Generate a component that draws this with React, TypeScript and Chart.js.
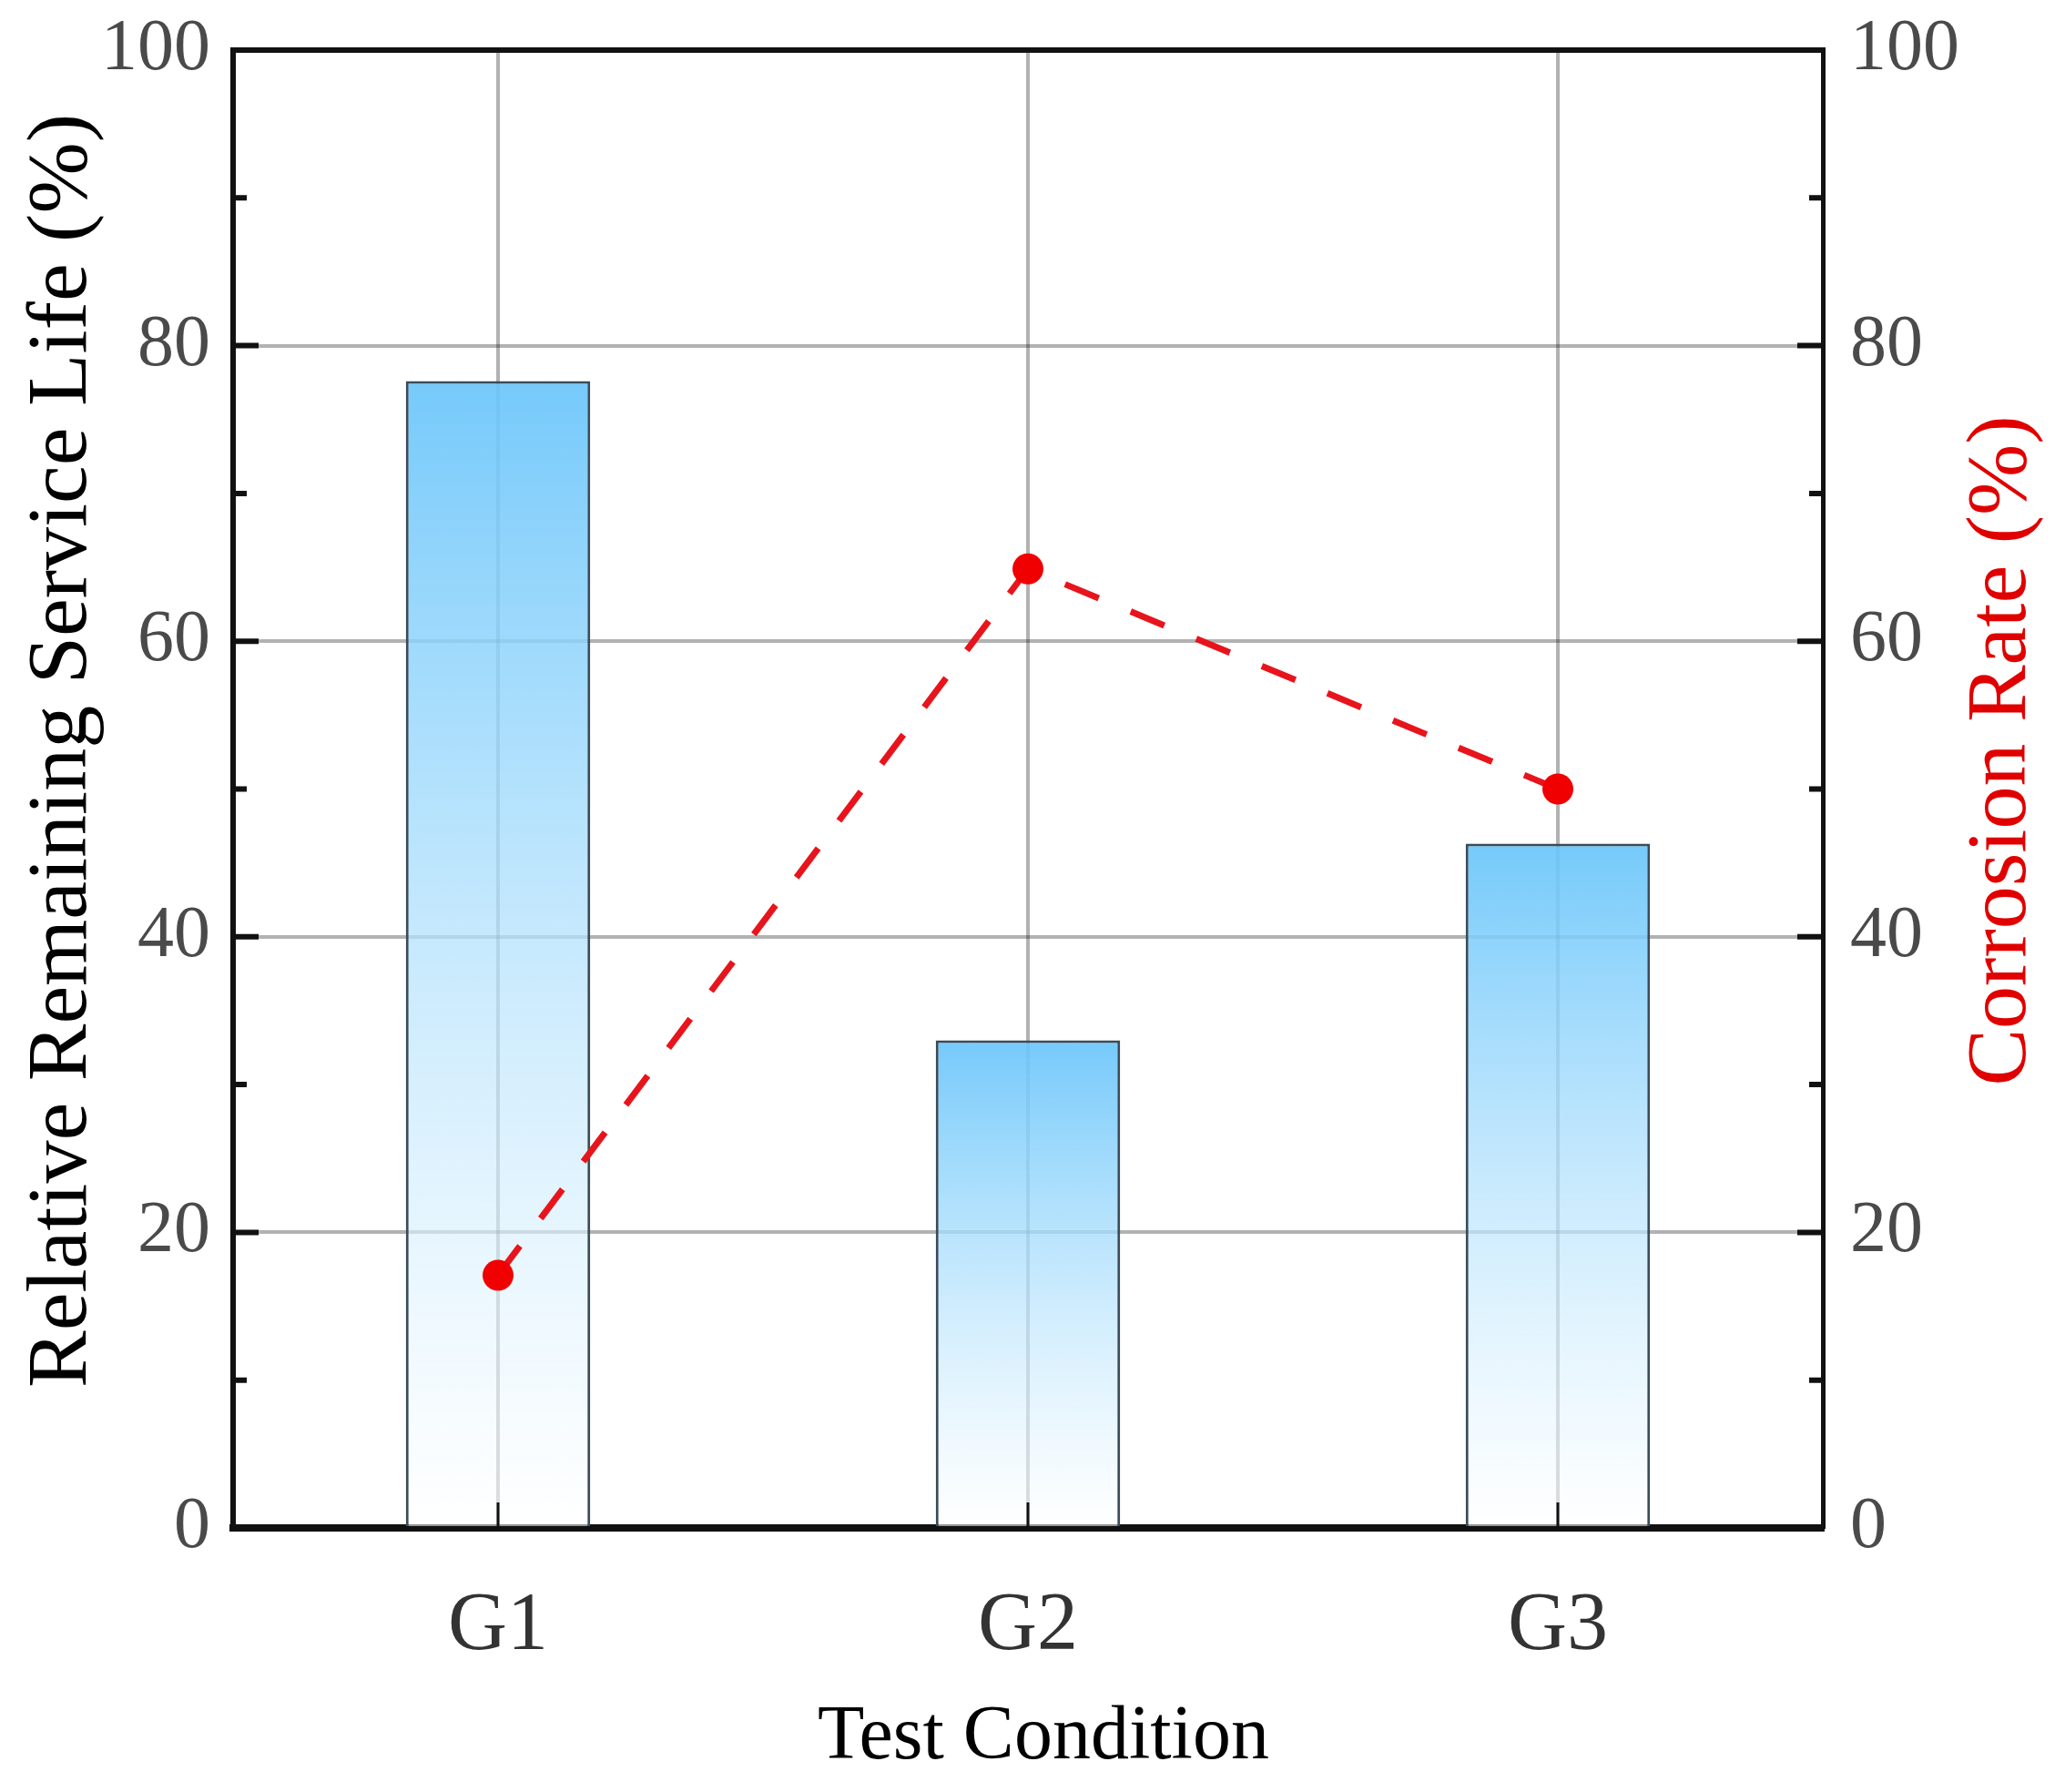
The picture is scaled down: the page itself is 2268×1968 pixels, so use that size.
import React, { useRef, useEffect } from 'react';
import { Chart, registerables } from 'chart.js';

Chart.register(...registerables);

// data
const conditions = ['G1', 'G2', 'G3'];
const serviceLife = [77.6, 33.0, 46.3];
const corrosionRate = [17.1, 64.9, 50.0];
const majorTicks = [0, 20, 40, 60, 80, 100];
const minorTicks = [10, 30, 50, 70, 90];

const SERIF = "'Liberation Serif', 'Times New Roman', serif";

// frame, inward tick marks and axis titles
const framePlugin = {
  id: 'frame',
  afterDraw(chart: any) {
    const { ctx, chartArea: a, scales } = chart;
    const y = scales.y;
    const x = scales.x;
    ctx.save();
    ctx.strokeStyle = '#111';

    // top line of the box
    ctx.lineWidth = 6;
    ctx.beginPath();
    ctx.moveTo(a.left - 3, a.top);
    ctx.lineTo(a.right + 3, a.top);
    ctx.stroke();

    // inward ticks on both y axes
    const drawTick = (v: number, len: number) => {
      const py = y.getPixelForValue(v);
      ctx.beginPath();
      ctx.moveTo(a.left, py);
      ctx.lineTo(a.left + len, py);
      ctx.moveTo(a.right, py);
      ctx.lineTo(a.right - len, py);
      ctx.stroke();
    };
    ctx.lineWidth = 6;
    majorTicks.forEach((v) => drawTick(v, 28));
    minorTicks.forEach((v) => drawTick(v, 15));

    // inward ticks on the x axis
    ctx.lineWidth = 3;
    conditions.forEach((_, i) => {
      const px = x.getPixelForTick(i);
      ctx.beginPath();
      ctx.moveTo(px, a.bottom);
      ctx.lineTo(px, a.bottom - 28);
      ctx.stroke();
    });

    // axis titles
    const midY = (a.top + a.bottom) / 2 - 42;
    ctx.font = `94px ${SERIF}`;
    ctx.textAlign = 'center';
    ctx.textBaseline = 'middle';

    ctx.fillStyle = '#000';
    ctx.save();
    ctx.translate(a.left - 187, midY);
    ctx.rotate(-Math.PI / 2);
    ctx.fillText('Relative Remaining Service Life (%)', 0, 0);
    ctx.restore();

    ctx.fillStyle = '#e00000';
    ctx.save();
    ctx.translate(a.right + 197, midY);
    ctx.rotate(-Math.PI / 2);
    ctx.fillText('Corrosion Rate (%)', 0, 0);
    ctx.restore();

    ctx.fillStyle = '#000';
    ctx.font = `84px ${SERIF}`;
    ctx.fillText('Test Condition', (a.left + a.right) / 2 + 17, a.bottom + 231);

    ctx.restore();
  },
};

const App: React.FC = () => {
  const canvasRef = useRef<HTMLCanvasElement>(null);

  useEffect(() => {
    if (!canvasRef.current) return;

    const barFill = (c: any) => {
      const chart = c.chart;
      if (!chart.chartArea || c.type !== 'data') return 'rgba(110,198,250,0.9)';
      const ys = chart.scales.y;
      const top = ys.getPixelForValue(c.raw as number);
      const bottom = ys.getPixelForValue(0);
      const g = chart.ctx.createLinearGradient(0, top, 0, bottom);
      g.addColorStop(0, 'rgba(106,197,250,0.92)');
      g.addColorStop(1, 'rgba(255,255,255,0.55)');
      return g;
    };

    const chart = new Chart(canvasRef.current, {
      type: 'bar',
      data: {
        labels: conditions,
        datasets: [
          {
            type: 'line',
            label: 'Corrosion Rate',
            data: corrosionRate,
            yAxisID: 'y1',
            borderColor: '#e8141c',
            borderWidth: 7,
            borderDash: [40, 38],
            pointRadius: 17,
            pointBackgroundColor: '#f00000',
            pointBorderWidth: 0,
            order: 1,
          },
          {
            type: 'bar',
            label: 'Relative Remaining Service Life',
            data: serviceLife,
            yAxisID: 'y',
            backgroundColor: barFill,
            borderColor: '#3a4c5a',
            borderWidth: 3,
            barPercentage: 0.348,
            categoryPercentage: 1,
            order: 2,
          },
        ] as any,
      },
      options: {
        responsive: true,
        maintainAspectRatio: false,
        animation: false,
        layout: { padding: { top: 55, left: 0, right: 0, bottom: 0 } },
        plugins: {
          legend: { display: false },
          tooltip: { enabled: false },
        },
        scales: {
          x: {
            type: 'category',
            offset: true,
            afterFit: (s: any) => {
              s.height = 290;
              s.paddingLeft = 0;
              s.paddingRight = 0;
            },
            grid: {
              offset: false,
              color: 'rgba(0,0,0,0.3)',
              lineWidth: 4,
              drawTicks: false,
            },
            border: { display: true, color: '#111', width: 8 },
            ticks: {
              color: '#333',
              padding: 55,
              font: { family: SERIF, size: 90 },
            },
          },
          y: {
            position: 'left',
            min: 0,
            max: 100,
            afterFit: (s: any) => {
              s.width = 256;
              s.paddingTop = 0;
              s.paddingBottom = 0;
            },
            grid: {
              color: (c: any) =>
                c.tick && (c.tick.value === 0 || c.tick.value === 100)
                  ? 'rgba(0,0,0,0)'
                  : 'rgba(0,0,0,0.3)',
              lineWidth: 4,
              drawTicks: false,
            },
            border: { display: true, color: '#111', width: 6 },
            ticks: {
              stepSize: 20,
              color: '#4a4a4a',
              padding: 25,
              font: { family: SERIF, size: 80 },
            },
          },
          y1: {
            position: 'right',
            min: 0,
            max: 100,
            afterFit: (s: any) => {
              s.width = 266;
              s.paddingTop = 0;
              s.paddingBottom = 0;
            },
            grid: { display: false, drawTicks: false },
            border: { display: true, color: '#111', width: 5 },
            ticks: {
              stepSize: 20,
              color: '#4a4a4a',
              padding: 30,
              font: { family: SERIF, size: 80 },
            },
          },
        },
      } as any,
      plugins: [framePlugin],
    });

    return () => {
      chart.destroy();
    };
  }, []);

  return (
    <div style={{ position: 'fixed', left: 0, top: 0, width: 2268, height: 1968, background: '#fff' }}>
      <canvas ref={canvasRef}></canvas>
    </div>
  );
};

export default App;
